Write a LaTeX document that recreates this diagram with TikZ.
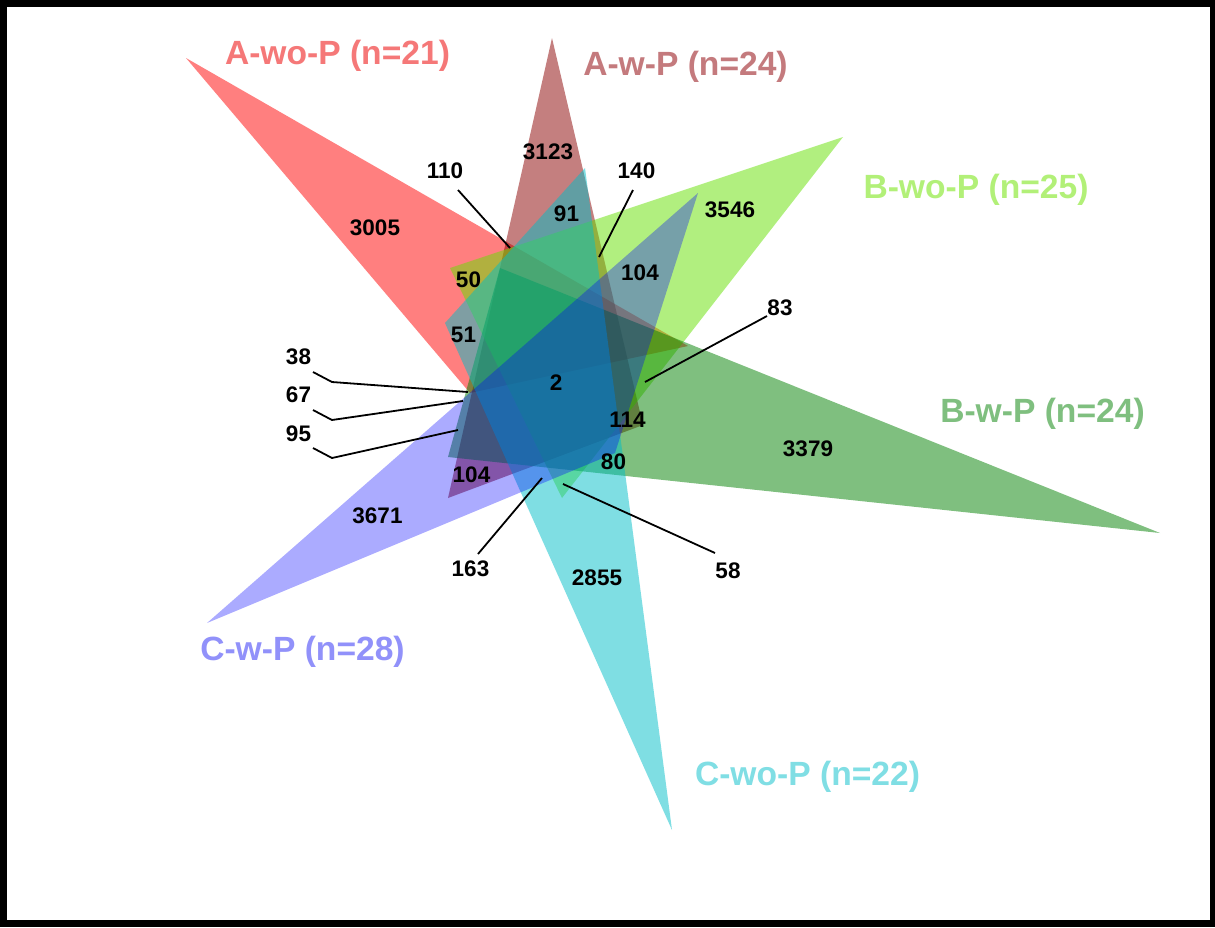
\documentclass[tikz,border=0pt]{standalone}
\usepackage{fontspec}
\setmainfont{Liberation Sans}
\usetikzlibrary{calc}
\definecolor{cAwo}{RGB}{255,0,0}
\definecolor{cAw}{RGB}{139,0,0}
\definecolor{cBwo}{RGB}{100,225,0}
\definecolor{cBw}{RGB}{0,128,0}
\definecolor{cCwo}{RGB}{0,190,200}
\definecolor{cCw}{RGB}{0,0,255}
\definecolor{tAwo}{RGB}{245,120,120}
\definecolor{tAw}{RGB}{196,122,125}
\definecolor{tBwo}{RGB}{178,240,120}
\definecolor{tBw}{RGB}{127,191,127}
\definecolor{tCwo}{RGB}{128,222,228}
\definecolor{tCw}{RGB}{145,145,250}
\begin{document}
\begin{tikzpicture}[x=1pt,y=-1pt,
  tri/.style={fill opacity=0.5},
  num/.style={inner sep=0pt, font=\fontsize{22.5}{27}\selectfont\bfseries},
  ttl/.style={inner sep=0pt, anchor=base, font=\fontsize{33.6}{40}\selectfont\bfseries},
  lead/.style={line width=1.8pt, black}]
\fill[black] (0,0) rectangle (1215,927);
\fill[white] (7,7) rectangle (1210,920);
\useasboundingbox (0,0) rectangle (1215,927);

% triangles
\fill[cAwo, tri] (186,58) -- (688,346) -- (470,393) -- cycle;
\fill[cAw, tri] (552,38) -- (643,425) -- (448,498) -- cycle;
\fill[cBwo, tri] (843,137) -- (450,268) -- (562,498) -- cycle;
\fill[cBw, tri] (1160,533) -- (500,268) -- (448,457) -- cycle;
\fill[cCwo, tri] (672,830) -- (585,168) -- (445,323) -- cycle;
\fill[cCw, fill opacity=0.33] (207,623) -- (698,193) -- (615,453) -- cycle;

% titles
\node[ttl, text=tAwo] (TAwo) at (337.5,64) {A-wo-P (n=21)};
\node[ttl, text=tAw] (TAw) at (685.5,75) {A-w-P (n=24)};
\node[ttl, text=tBwo] (TBwo) at (976,198) {B-wo-P (n=25)};
\node[ttl, text=tBw] (TBw) at (1042.5,422) {B-w-P (n=24)};
\node[ttl, text=tCw] (TCw) at (302.5,660) {C-w-P (n=28)};
\node[ttl, text=tCwo] (TCwo) at (807.5,785) {C-wo-P (n=22)};

% counts
\node[num] (n3005) at (375,228) {3005};
\node[num] (n3123) at (548,152) {3123};
\node[num] (n110) at (445,171) {110};
\node[num] (n140) at (636.5,171) {140};
\node[num] (n91) at (566.5,213.5) {91};
\node[num] (n3546) at (730,210) {3546};
\node[num] (n104a) at (640,273) {104};
\node[num] (n50) at (468.5,279.5) {50};
\node[num] (n83) at (780,308) {83};
\node[num] (n51) at (463.5,334.5) {51};
\node[num] (n38) at (298.5,356.5) {38};
\node[num] (n2) at (556,382.5) {2};
\node[num] (n67) at (298.5,395) {67};
\node[num] (n114) at (627.5,420) {114};
\node[num] (n95) at (298.5,433.5) {95};
\node[num] (n3379) at (808,449) {3379};
\node[num] (n80) at (613.5,461.5) {80};
\node[num] (n104b) at (471.5,474.5) {104};
\node[num] (n3671) at (377.5,516) {3671};
\node[num] (n163) at (470.5,569) {163};
\node[num] (n58) at (728,571) {58};
\node[num] (n2855) at (597,578) {2855};

% leader line targets
\coordinate (e110) at (510,248);
\coordinate (e140) at (599,257);
\coordinate (e83) at (645,382);
\coordinate (k38) at (332,382);
\coordinate (e38) at (468,392);
\coordinate (k67) at (332,420);
\coordinate (e67) at (463,401);
\coordinate (k95) at (332,458);
\coordinate (e95) at (458,430);
\coordinate (e163) at (542,478);
\coordinate (e58) at (563,484);

\draw[lead] ($(n110)+(13,19)$) -- (e110);
\draw[lead] ($(n140)+(-3.5,19)$) -- (e140);
\draw[lead] ($(n83)+(-13,8)$) -- (e83);
\draw[lead] ($(n38)+(14.5,15.5)$) -- (k38) -- (e38);
\draw[lead] ($(n67)+(14.5,15)$) -- (k67) -- (e67);
\draw[lead] ($(n95)+(14.5,14.5)$) -- (k95) -- (e95);
\draw[lead] ($(n163)+(7.5,-15)$) -- (e163);
\draw[lead] ($(n58)+(-13,-18)$) -- (e58);
\end{tikzpicture}
\end{document}
